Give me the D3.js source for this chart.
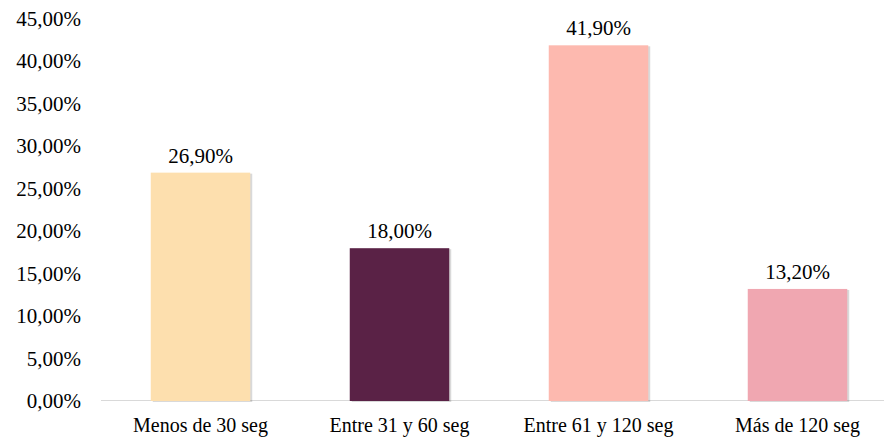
<!DOCTYPE html>
<html>

<head>
  <meta charset="UTF-8">
</head>

<body style="margin:0">
  <svg id="svg" width="884" height="441" font-family="Liberation Serif">
    <text x="-100" y="-100" font-family="Liberation Serif" font-size="21" opacity="0">0</text>
  </svg>

  <script src="https://d3js.org/d3.v7.min.js"></script>
  <script>
    const categories = ['Menos de 30 seg', 'Entre 31 y 60 seg', 'Entre 61 y 120 seg', 'Más de 120 seg']
    const values = [26.9, 18.0, 41.9, 13.2]
    const colors = ['#FDDFAE', '#5A2246', '#FDB9AF', '#F0A7B1']
    const ticks = [0, 5, 10, 15, 20, 25, 30, 35, 40, 45]

    const font = 'Liberation Serif'
    const fmt = v => v.toFixed(2).replace('.', ',') + '%'

    const svg = d3.select('#svg')

    const xScale = d3.scaleBand()
      .domain(categories)
      .range([101, 897])
      .paddingInner(0.5)
      .paddingOuter(0.25)

    const yScale = d3.scaleLinear()
      .domain([0, 45])
      .range([401, 19])

    // baseline
    svg.append('line')
      .attr('x1', xScale.range()[0])
      .attr('x2', 884)
      .attr('y1', yScale(0) - 0.5)
      .attr('y2', yScale(0) - 0.5)
      .attr('stroke', '#d9d9d9')
      .attr('stroke-width', 1)

    // light shadow to the right of each bar
    svg.selectAll('rect.shadow')
      .data(values)
      .enter()
      .append('rect')
      .attr('class', 'shadow')
      .attr('x', (d, i) => xScale(categories[i]) + 2)
      .attr('width', xScale.bandwidth())
      .attr('y', d => yScale(d) + 1)
      .attr('height', d => yScale(0) - yScale(d))
      .attr('fill', '#000')
      .attr('opacity', 0.15)

    svg.selectAll('rect.bar')
      .data(values)
      .enter()
      .append('rect')
      .attr('class', 'bar')
      .attr('x', (d, i) => xScale(categories[i]))
      .attr('width', xScale.bandwidth())
      .attr('y', d => yScale(d))
      .attr('height', d => yScale(0) - yScale(d))
      .attr('fill', (d, i) => colors[i])

    // y axis labels
    svg.selectAll('text.tick')
      .data(ticks)
      .enter()
      .append('text')
      .attr('class', 'tick')
      .attr('x', 81)
      .attr('y', d => yScale(d) + 7)
      .attr('text-anchor', 'end')
      .attr('font-family', font)
      .attr('font-size', 21)
      .text(d => fmt(d))

    // value labels
    svg.selectAll('text.value')
      .data(values)
      .enter()
      .append('text')
      .attr('class', 'value')
      .attr('x', (d, i) => xScale(categories[i]) + xScale.bandwidth() / 2)
      .attr('y', d => yScale(d) - 10)
      .attr('text-anchor', 'middle')
      .attr('font-family', font)
      .attr('font-size', 21)
      .text(d => fmt(d))

    // category labels
    svg.selectAll('text.cat')
      .data(categories)
      .enter()
      .append('text')
      .attr('class', 'cat')
      .attr('x', d => xScale(d) + xScale.bandwidth() / 2)
      .attr('y', 432)
      .attr('text-anchor', 'middle')
      .attr('font-family', font)
      .attr('font-size', 20)
      .text(d => d)
  </script>
</body>

</html>
